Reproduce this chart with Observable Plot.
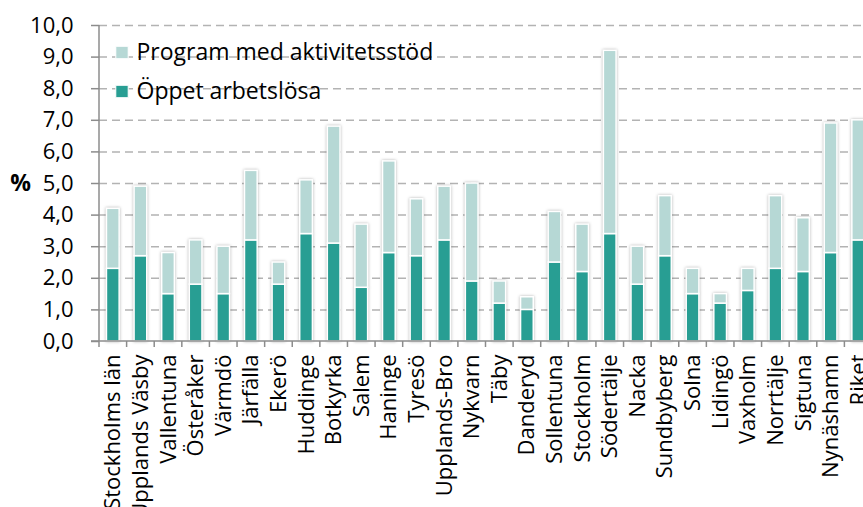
<!DOCTYPE html>
<html>
<head>
<meta charset="utf-8">
<script src="https://cdn.jsdelivr.net/npm/d3@7"></script>
<script src="https://cdn.jsdelivr.net/npm/@observablehq/plot@0.6"></script>
<style>
  html, body { margin: 0; padding: 0; background: white; overflow: hidden; }
  #chart svg { overflow: hidden; }
  #chart svg text { font-size: 22px; font-family: 'Open Sans', sans-serif; fill: #000; }
  #chart svg g[aria-label="text"] text { font-size: 23px; }
  g[aria-label="bar"] { filter: drop-shadow(0 0 1.5px rgba(0,0,0,0.3)); }
</style>
</head>
<body>
<div id="chart"></div>
<script>
const categories = ["Stockholms län","Upplands Väsby","Vallentuna","Österåker","Värmdö","Järfälla","Ekerö","Huddinge","Botkyrka","Salem","Haninge","Tyresö","Upplands-Bro","Nykvarn","Täby","Danderyd","Sollentuna","Stockholm","Södertälje","Nacka","Sundbyberg","Solna","Lidingö","Vaxholm","Norrtälje","Sigtuna","Nynäshamn","Riket"];
const oppet   = [2.3,2.7,1.5,1.8,1.5,3.2,1.8,3.4,3.1,1.7,2.8,2.7,3.2,1.9,1.2,1.0,2.5,2.2,3.4,1.8,2.7,1.5,1.2,1.6,2.3,2.2,2.8,3.2];
const program = [1.9,2.2,1.3,1.4,1.5,2.2,0.7,1.7,3.7,2.0,2.9,1.8,1.7,3.1,0.7,0.4,1.6,1.5,5.8,1.2,1.9,0.8,0.3,0.7,2.3,1.7,4.1,3.8];
const seriesNames = ["Öppet arbetslösa", "Program med aktivitetsstöd"];
const seriesColors = ["#289e93", "#b6d8d5"];
const yTicks = [0,1,2,3,4,5,6,7,8,9,10];

const data = categories.flatMap((c, i) => [
  {kommun: c, serie: seriesNames[0], value: oppet[i]},
  {kommun: c, serie: seriesNames[1], value: program[i]}
]);

const fmt = d => d.toFixed(1).replace(".", ",");

function axisLines(index, scales, values, dimensions) {
  const {marginLeft, marginTop, height, marginBottom, width} = dimensions;
  const x = scales.x;
  const g = d3.create("svg:g").attr("stroke", "#8c8c8c").attr("stroke-width", 1.5);
  const y0 = height - marginBottom;
  g.append("line").attr("x1", marginLeft).attr("x2", marginLeft).attr("y1", marginTop).attr("y2", y0);
  g.append("line").attr("x1", marginLeft - 8).attr("x2", width).attr("y1", y0).attr("y2", y0);
  const step = x(categories[1]) - x(categories[0]);
  const bw = x.bandwidth ? x.bandwidth() : step * 0.46;
  const off = (step - bw) / 2;
  categories.forEach(c => {
    const bx = x(c) - off;
    g.append("line").attr("x1", bx).attr("x2", bx).attr("y1", y0).attr("y2", y0 + 6);
  });
  return g.node();
}

const chart = Plot.plot({
  width: 863,
  height: 507,
  marginLeft: 99,
  marginTop: 25,
  marginBottom: 166,
  marginRight: 0,
  style: {fontFamily: "'Open Sans', sans-serif", fontSize: "22px", color: "#000", background: "white"},
  x: {domain: categories, range: [99, 872], paddingInner: 0.54, paddingOuter: 0.27, round: false, label: null},
  y: {domain: [0, 10], range: [341, 25], label: null},
  color: {domain: seriesNames, range: seriesColors},
  marks: [
    Plot.gridY(yTicks.filter(d => d > 0), {stroke: "#b3b3b3", strokeOpacity: 1, strokeWidth: 1.5, strokeDasharray: "8,5"}),
    Plot.barY(data, {x: "kommun", y: "value", fill: "serie", order: seriesNames, stroke: "white", strokeWidth: 1.5}),
    axisLines,
    Plot.axisY({ticks: yTicks, tickSize: 8, tickPadding: 18, tickFormat: fmt, stroke: "#8c8c8c", strokeWidth: 1.5, label: null}),
    Plot.axisX({tickSize: 0, tickPadding: 13, tickRotate: -90, label: null}),
    Plot.text(["%"], {frameAnchor: "left", dx: -79, text: d => d, fontWeight: "bold", textAnchor: "middle", lineAnchor: "middle"}),
    Plot.dot([seriesNames[1]], {frameAnchor: "top-left", dx: 22.5, dy: 27, symbol: "square", r: 7, fill: seriesColors[1], stroke: "white", strokeWidth: 1}),
    Plot.dot([seriesNames[0]], {frameAnchor: "top-left", dx: 22.5, dy: 66, symbol: "square", r: 7, fill: seriesColors[0], stroke: "white", strokeWidth: 1}),
    Plot.text([seriesNames[1]], {frameAnchor: "top-left", dx: 37, dy: 27, text: d => d, textAnchor: "start", lineAnchor: "middle"}),
    Plot.text([seriesNames[0]], {frameAnchor: "top-left", dx: 37, dy: 66, text: d => d, textAnchor: "start", lineAnchor: "middle"}),
  ]
});

document.getElementById("chart").appendChild(chart);
</script>
</body>
</html>
